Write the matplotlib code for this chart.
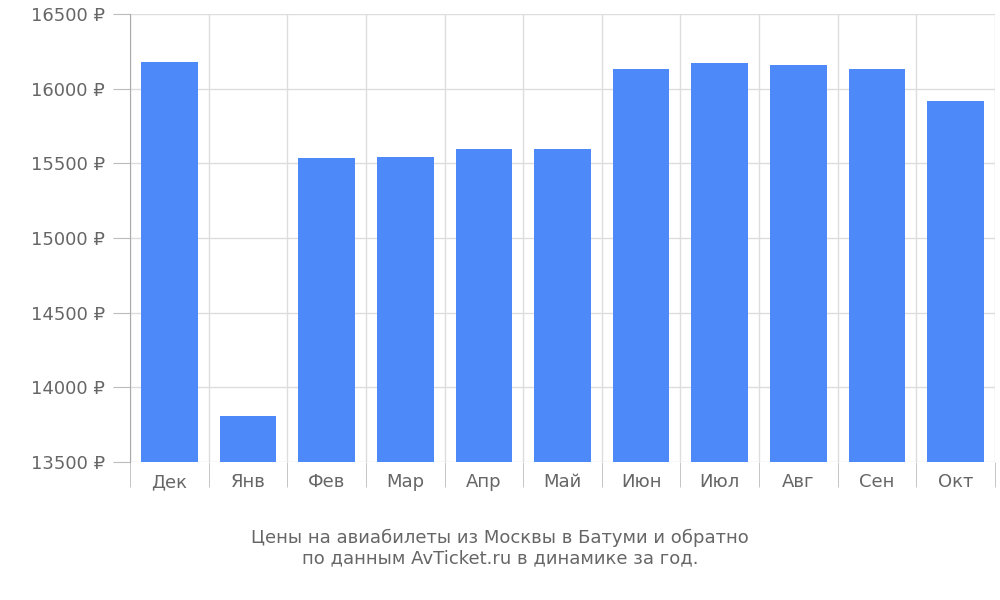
import matplotlib

matplotlib.use("Agg")
import matplotlib.pyplot as plt
import numpy as np

months = ["Дек", "Янв", "Фев", "Мар", "Апр", "Май", "Июн", "Июл", "Авг", "Сен", "Окт"]
prices = [16180, 13810, 15535, 15540, 15592, 15598, 16128, 16168, 16160, 16128, 15918]
y_ticks = [13500, 14000, 14500, 15000, 15500, 16000, 16500]

text_color = "#666666"
grid_color = "#dddddd"

fig = plt.figure(figsize=(10, 6), dpi=100)
ax = fig.add_axes([0.13, 0.23, 0.865, 0.747])

x = np.arange(len(months))
ax.bar(x, prices, width=0.72, color="#4d89f9", zorder=3)

ax.set_xlim(-0.5, len(months) - 0.5)
ax.set_ylim(13500, 16500)
ax.set_yticks(y_ticks)
ax.set_yticklabels([f"{v} ₽" for v in y_ticks])
ax.set_xticks(x)
ax.set_xticklabels(months)
ax.set_xticks(np.arange(len(months) + 1) - 0.5, minor=True)

ax.tick_params(axis="x", which="major", length=0, pad=8, labelsize=13, labelcolor=text_color)
ax.tick_params(axis="x", which="minor", length=18, color="#bbbbbb", direction="out")
ax.tick_params(axis="y", length=12, color="#bbbbbb", labelsize=13, labelcolor=text_color, pad=6)

ax.grid(axis="y", color=grid_color, linewidth=1, zorder=0)
ax.grid(axis="x", which="minor", color=grid_color, linewidth=1, zorder=0)

for side in ["top", "right", "bottom"]:
    ax.spines[side].set_visible(False)
ax.spines["left"].set_color("#aaaaaa")

fig.text(0.5, 0.087, "Цены на авиабилеты из Москвы в Батуми и обратно\nпо данным AvTicket.ru в динамике за год.",
         ha="center", va="center", fontsize=13, color=text_color, linespacing=1.2)

fig.savefig("out.png", dpi=100)
